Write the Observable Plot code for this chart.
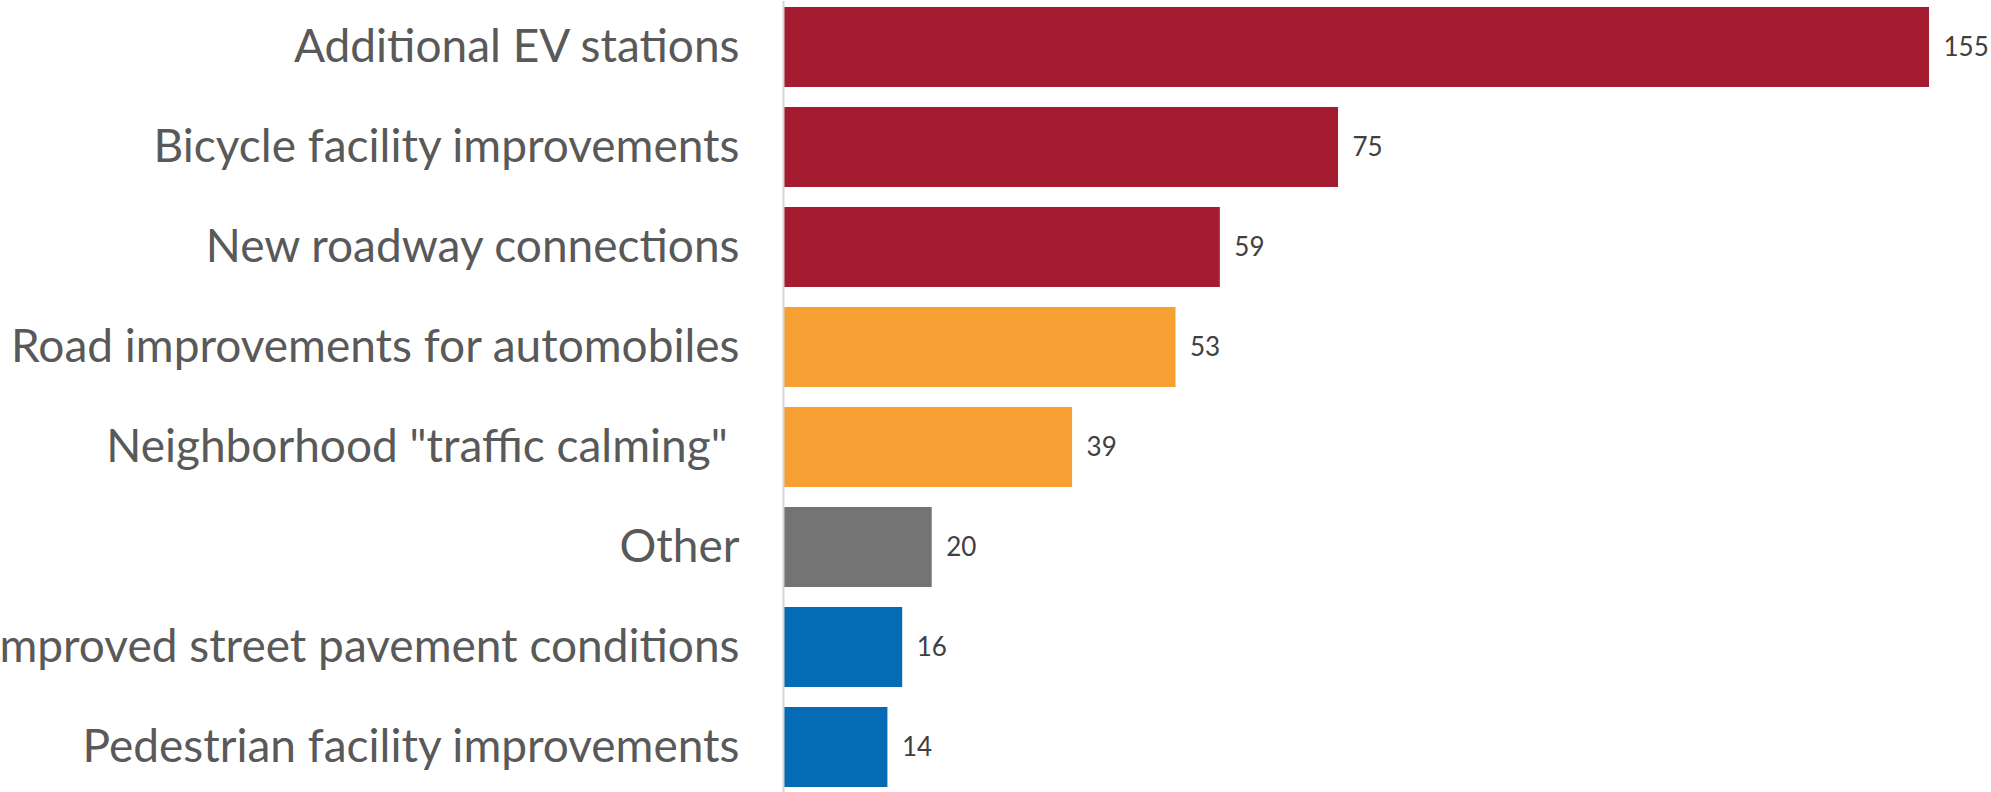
<!DOCTYPE html>
<html>
<head>
<meta charset="utf-8">
<script src="https://cdn.jsdelivr.net/npm/d3@7"></script>
<script src="https://cdn.jsdelivr.net/npm/@observablehq/plot@0.6"></script>
<style>
  html, body { margin: 0; padding: 0; background: #fff; overflow: hidden; }
  svg { display: block; }
</style>
</head>
<body>
<div id="chart"></div>
<script>
const categories = [
  "Additional EV stations",
  "Bicycle facility improvements",
  "New roadway connections",
  "Road improvements for automobiles",
  "Neighborhood \"traffic calming\"\u00a0",
  "Other",
  "Improved street pavement conditions",
  "Pedestrian facility improvements"
];
const values = [155, 75, 59, 53, 39, 20, 16, 14];
const groups = ["high", "high", "high", "mid", "mid", "other", "low", "low"];

const groupDomain = ["high", "mid", "other", "low"];
const groupColors = ["#A51C30", "#F6A034", "#747474", "#046BB4"];

const data = categories.map((c, i) => ({category: c, value: values[i], group: groups[i]}));

const chart = Plot.plot({
  width: 1991,
  height: 792,
  marginLeft: 784,
  marginRight: 62,
  marginTop: 1,
  marginBottom: 0,
  style: {fontFamily: "Lato, 'Open Sans', sans-serif", background: "#fff"},
  x: {domain: [0, 155], axis: null},
  y: {domain: categories, paddingInner: 0.2, paddingOuter: 0.04, label: null},
  color: {domain: groupDomain, range: groupColors},
  marks: [
    Plot.barX(data, {x: "value", y: "category", fill: "group"}),
    Plot.ruleX([0], {stroke: "#d6d6d6", strokeWidth: 2, dx: -1}),
    Plot.text(data, {x: "value", y: "category", text: d => String(d.value), textAnchor: "start", dx: 14, fontSize: 26, fill: "#404040"}),
    Plot.axisY({tickSize: 0, tickPadding: 45, fontSize: 46, color: "#595959", label: null})
  ]
});
document.getElementById("chart").appendChild(chart);
</script>
</body>
</html>
